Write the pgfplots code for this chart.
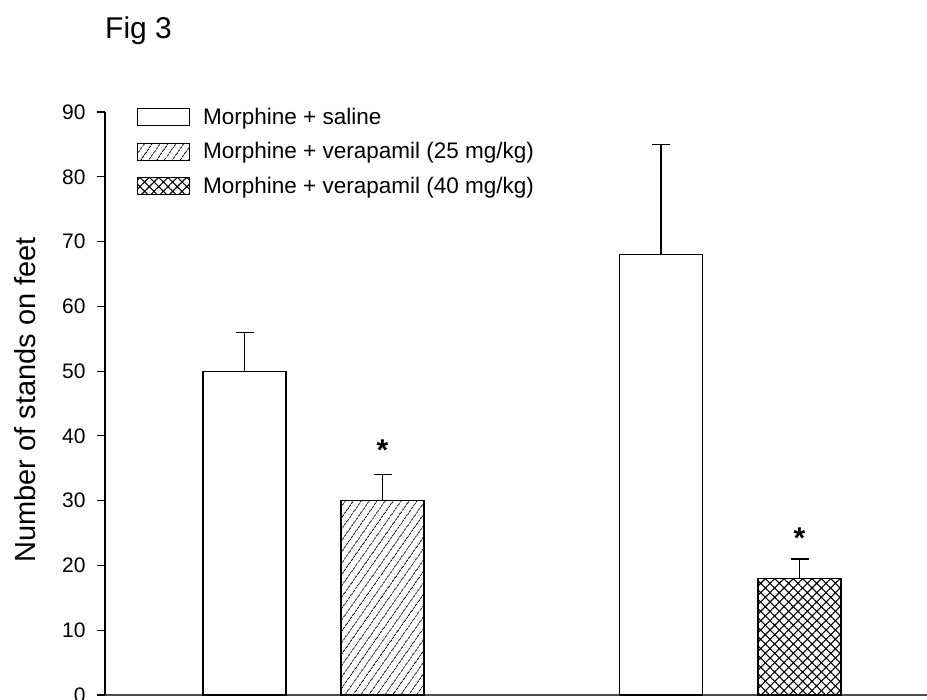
\documentclass[border=0pt]{standalone}
\usepackage{fontspec}
\setmainfont{Liberation Sans}
\usepackage{pgfplots}
\pgfplotsset{compat=1.18}
\usetikzlibrary{patterns.meta}

\begin{document}
\begin{tikzpicture}[x=1pt,y=1pt]
\useasboundingbox (0,0) rectangle (927,700);
\begin{axis}[
  at={(105pt,5pt)}, anchor=south west,
  scale only axis, width=822pt, height=583pt,
  xmin=105, xmax=927, ymin=0, ymax=90,
  axis x line=bottom, axis y line=left,
  x axis line style={-, draw=black!70, line width=1.8pt},
  y axis line style={-, line width=1.2pt},
  xtick=\empty,
  ytick={0,10,...,90},
  tick align=outside, major tick length=8pt,
  ytick style={line width=1.1pt, black},
  yticklabel={\fontsize{21}{24}\selectfont\pgfmathprintnumber{\tick}},
  yticklabel style={xshift=-8pt},
  /pgf/number format/assume math mode=true,
  ybar, bar width=83, bar shift=0pt,
  legend style={at={(0.0389,1.0069)}, anchor=north west, draw=none, fill=none,
    inner sep=0pt, font=\fontsize{22.5}{25}\selectfont,
    nodes={inner sep=0pt, text depth=0.2em}, row sep=16pt,
    /tikz/every odd column/.style={column sep=13pt}},
  legend cell align=left,
  legend image code/.code={\draw[#1, line width=1pt] (0pt,-8.5pt) rectangle (52pt,8.5pt);},
  clip=false,
]
% morphine + saline
\addplot[draw=black, line width=1.2pt, fill=white,
  error bars/.cd, y dir=plus, y explicit,
  error bar style={line width=1.2pt, black},
  error mark options={rotate=90, mark size=9pt, line width=1.2pt}]
  coordinates {(244.5,50) +- (0,6) (661,68) +- (0,17)};
\addlegendentry{Morphine + saline}
% morphine + verapamil 25
\addplot[draw=black, line width=1.2pt,
  pattern={Lines[angle=55, distance=6.5pt, line width=0.9pt]}, pattern color=black,
  error bars/.cd, y dir=plus, y explicit,
  error bar style={line width=1.2pt, black},
  error mark options={rotate=90, mark size=9pt, line width=1.2pt}]
  coordinates {(382.5,30) +- (0,4)};
\addlegendentry{Morphine + verapamil (25 mg/kg)}
% morphine + verapamil 40
\addplot[draw=black, line width=1.2pt,
  pattern={Hatch[angle=45, distance=6.6pt, line width=1.1pt]}, pattern color=black,
  error bars/.cd, y dir=plus, y explicit,
  error bar style={line width=1.2pt, black},
  error mark options={rotate=90, mark size=9pt, line width=1.2pt}]
  coordinates {(799.5,18) +- (0,3)};
\addlegendentry{Morphine + verapamil (40 mg/kg)}

\node[anchor=north, inner sep=0pt, font=\fontsize{30}{30}\selectfont\bfseries] at (axis cs:382.5,39.4) {*};
\node[anchor=north, inner sep=0pt, font=\fontsize{30}{30}\selectfont\bfseries] at (axis cs:799.5,25.8) {*};
\end{axis}
\node[rotate=90, anchor=base, inner sep=0pt, font=\fontsize{29}{31}\selectfont] at (35,300) {Number of stands on feet};
\node[anchor=base west, inner sep=0pt, font=\fontsize{30}{32}\selectfont] at (105,661) {Fig 3};
\end{tikzpicture}
\end{document}
